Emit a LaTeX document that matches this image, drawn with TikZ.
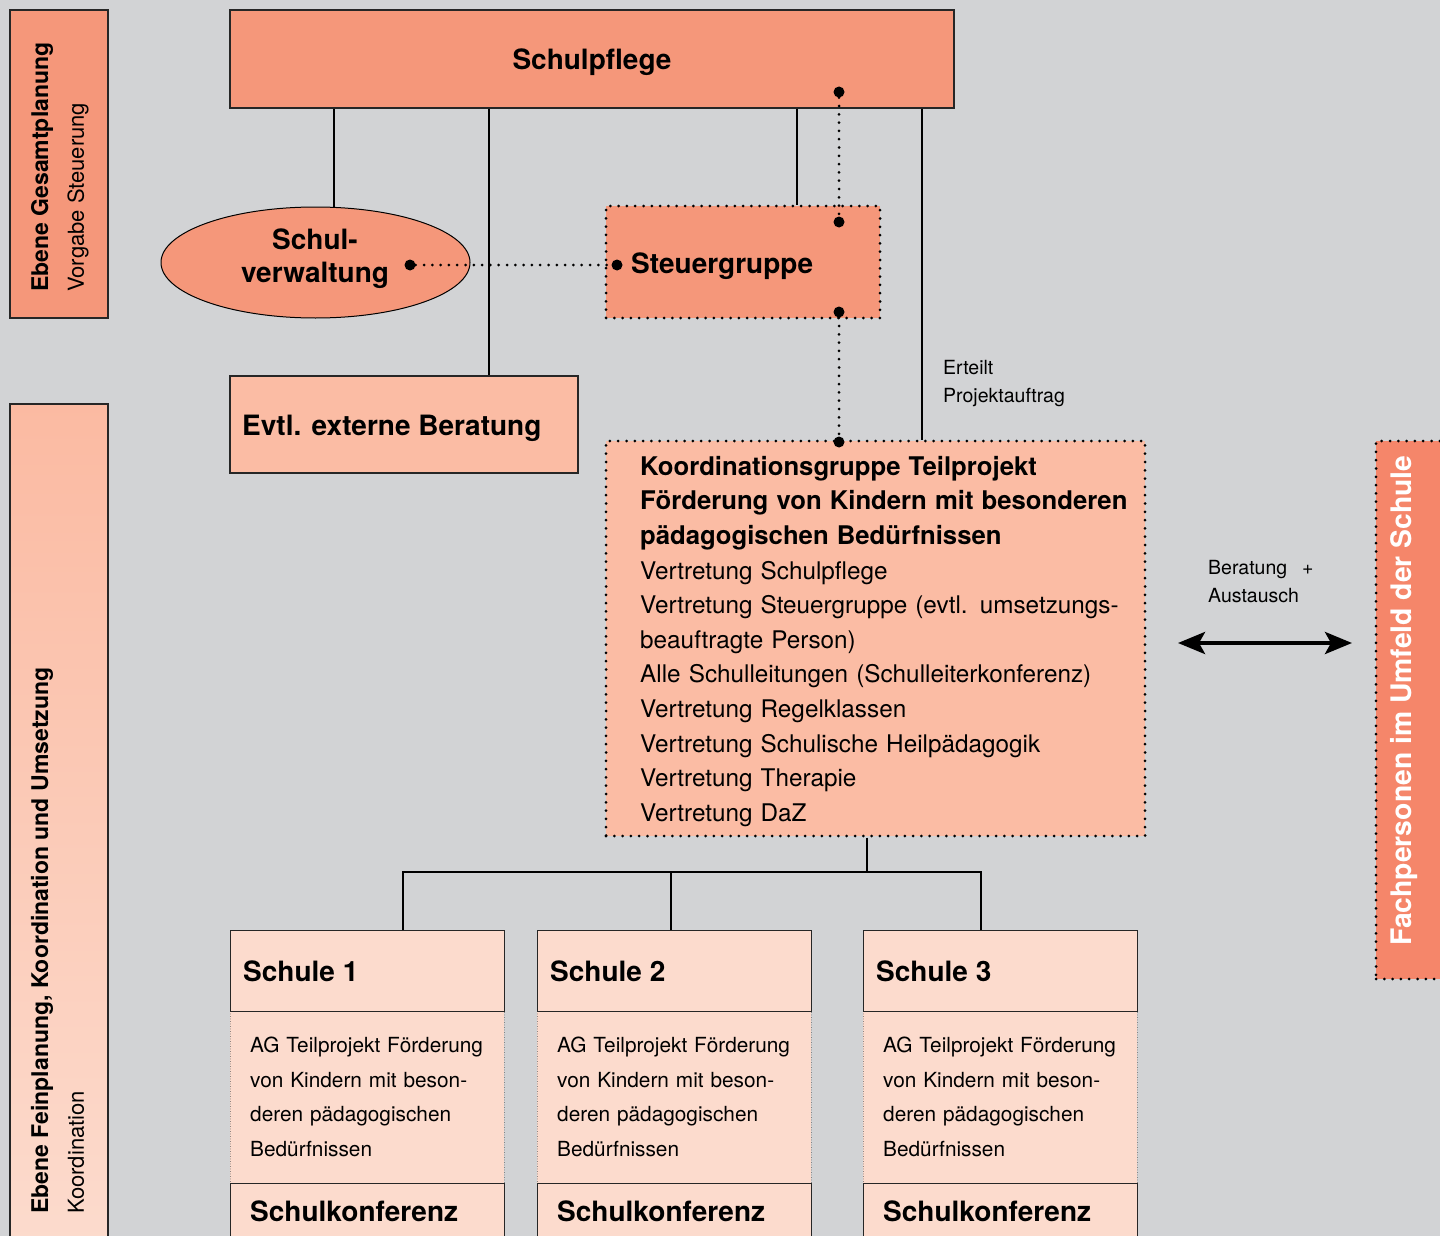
\documentclass[tikz,border=0pt]{standalone}
\usepackage{fontspec}
\setmainfont{TeX Gyre Heros}
\usetikzlibrary{shapes.geometric}
\usetikzlibrary{arrows.meta}
\usetikzlibrary{positioning}
\definecolor{bg}{HTML}{D2D3D5}
\definecolor{salmon}{HTML}{F5977A}
\definecolor{peach}{HTML}{FBBCA4}
\definecolor{pale}{HTML}{FCDBCD}
\definecolor{coral}{HTML}{F5866A}
\tikzstyle{box} = [rectangle, draw=black!85, line width=1.3pt, inner sep=0pt]
\tikzstyle{dotbox} = [rectangle, draw=black, line width=3pt,
  dash pattern=on 0pt off 8.3pt, line cap=round, inner sep=0pt]
\tikzstyle{thinbox} = [rectangle, draw=black!60, line width=0.9pt,
  dash pattern=on 0pt off 2.5pt, line cap=round, inner sep=0pt]
\tikzstyle{conn} = [line width=2pt]
\tikzstyle{dotline} = [line width=3pt, dash pattern=on 0pt off 8.3pt, line cap=round]
\tikzstyle{bullet} = [circle, fill=black, inner sep=0pt, minimum size=11pt]
\tikzstyle{head} = [inner sep=0pt, font=\fontsize{28}{33}\selectfont\bfseries]
\tikzstyle{note} = [inner sep=0pt, text width=150, align=left,
  font=\fontsize{19.5}{28}\selectfont]
\tikzstyle{vhead} = [inner sep=0pt, rotate=90, anchor=west,
  font=\fontsize{23}{23}\selectfont\bfseries]
\tikzstyle{vsub} = [inner sep=0pt, rotate=90, anchor=west,
  font=\fontsize{22}{22}\selectfont]
\begin{document}
\begin{tikzpicture}[x=1pt,y=-1pt]
    \useasboundingbox (0,0) rectangle (1440,1236);
    \clip (0,0) rectangle (1440,1236);
    \fill[bg] (0,0) rectangle (1440,1236);

    % Ebenen
    \node[box, fill=salmon, minimum width=98, minimum height=308] (gesamt) at (59,164) {};
    \node[vhead] (gesamt-t) at (42,292) {Ebene Gesamtplanung};
    \node[vsub] (gesamt-s) at (78,292) {Vorgabe Steuerung};
    \node[box, top color=peach!95!salmon, bottom color=pale, minimum width=98,
      minimum height=840] (fein) at (59,824) {};
    \node[vhead] (fein-t) at (42,1214) {Ebene Feinplanung, Koordination und Umsetzung};
    \node[vsub] (fein-s) at (76,1214) {Koordination};

    % Gesamtplanung
    \node[box, fill=salmon, minimum width=724, minimum height=98] (pflege) at (592,59) {};
    \node[head] (pflege-t) at (592,62) {Schulpflege};
    \node[ellipse, draw=black, line width=1pt, fill=salmon, minimum width=309,
      minimum height=111, inner sep=0pt] (verw) at (315.5,262.5) {};
    \node[head, align=center] (verw-t) at (315,259) {Schul-\\verwaltung};
    \node[dotbox, fill=salmon, minimum width=274, minimum height=112] (steuer) at (743,262) {};
    \node[head, anchor=west] (steuer-t) at (631,266) {Steuergruppe};
    \node[box, fill=peach, minimum width=348, minimum height=97] (berat) at (404,424.5) {};
    \node[head, anchor=west] (berat-t) at (242,428) {Evtl. externe Beratung};

    % Koordination
    \node[dotbox, fill=peach, minimum width=539, minimum height=395] (koord) at (875.5,638.5) {};
    \node[anchor=north west, inner sep=0pt, text width=500, align=left,
      font=\fontsize{24.3}{34.6}\selectfont] (koord-t) at (640,456) {%
      {\fontsize{25.7}{34.6}\selectfont\bfseries Koordinationsgruppe Teilprojekt}\\
      {\fontsize{25.7}{34.6}\selectfont\bfseries Förderung von Kindern mit besonderen}\\
      {\fontsize{25.7}{34.6}\selectfont\bfseries pädagogischen Bedürfnissen}\\
      Vertretung Schulpflege\\
      Vertretung Steuergruppe (evtl. umsetzungs-\\
      beauftragte Person)\\
      Alle Schulleitungen (Schulleiterkonferenz)\\
      Vertretung Regelklassen\\
      Vertretung Schulische Heilpädagogik\\
      Vertretung Therapie\\
      Vertretung DaZ};

    % Umfeld
    \node[dotbox, fill=coral, minimum width=70, minimum height=538] (fach) at (1411,710) {};
    \node[vhead, text=white, font=\fontsize{28.3}{28}\selectfont\bfseries] (fach-t)
      at (1404,946) {Fachpersonen im Umfeld der Schule};

    % Schulen
    \foreach \x/\n in {230/1,537/2,863/3} {
      \node[thinbox, fill=pale, minimum width=274, minimum height=172, anchor=north west] (ag\n) at (\x,1011) {};
      \node[box, fill=pale, minimum width=274, minimum height=81, anchor=north west] (s\n) at (\x,930) {};
      \node[box, fill=pale, minimum width=274, minimum height=60, anchor=north west] (konf\n) at (\x,1183) {};
      \node[head, anchor=west] (s\n-t) at (\x+13,971) {Schule \n};
      \node[anchor=north west, inner sep=0pt, text width=260, align=left,
        font=\fontsize{20.8}{34.6}\selectfont] (ag\n-t) at (\x+20,1037)
        {AG Teilprojekt Förderung\\von Kindern mit beson-\\deren pädagogischen\\Bedürfnissen};
      \node[head, anchor=west] (konf\n-t) at (\x+20,1211) {Schulkonferenz};
    }

    % Linien
    \coordinate (ca) at (334,0);
    \coordinate (cb) at (489,0);
    \coordinate (cc) at (797,0);
    \coordinate (cd) at (922,0);
    \draw[conn] (pflege.south -| ca) -- (verw.north -| ca);
    \draw[conn] (pflege.south -| cb) -- (berat.north -| cb);
    \draw[conn] (pflege.south -| cc) -- (steuer.north -| cc);
    \draw[conn] (pflege.south -| cd) -- (koord.north -| cd);

    \node[bullet] (b1) at (839,92) {};
    \node[bullet] (b2) at (839,222) {};
    \node[bullet] (b3) at (839,312) {};
    \node[bullet] (b4) at (839,442) {};
    \node[bullet] (b5) at (410,265) {};
    \node[bullet] (b6) at (617,265) {};
    \draw[dotline] (b1) -- (b2);
    \draw[dotline] (b3) -- (b4);
    \draw[dotline] (b5) -- (b6);

    \coordinate (t0) at (867,872);
    \coordinate (t1) at (403,872);
    \coordinate (t2) at (671,872);
    \coordinate (t3) at (981,872);
    \draw[conn] (koord.south -| t0) -- (t0);
    \draw[conn] (s1.north -| t1) -- (t1) -- (t3) -- (s3.north -| t3);
    \draw[conn] (t2) -- (s2.north -| t2);

    \coordinate (al) at (1178,643);
    \coordinate (ar) at (1352,643);
    \draw[line width=4pt, {Stealth[length=27pt,width=22pt,inset=6pt]}-{Stealth[length=27pt,width=22pt,inset=6pt]}] (al) -- (ar);

    \node[note, anchor=west] (auftrag) at (943,384) {Erteilt\\Projektauftrag};
    \node[note, anchor=west] (tausch) at (1208,582) {Beratung\hspace{15pt}+\\Austausch};
\end{tikzpicture}
\end{document}
